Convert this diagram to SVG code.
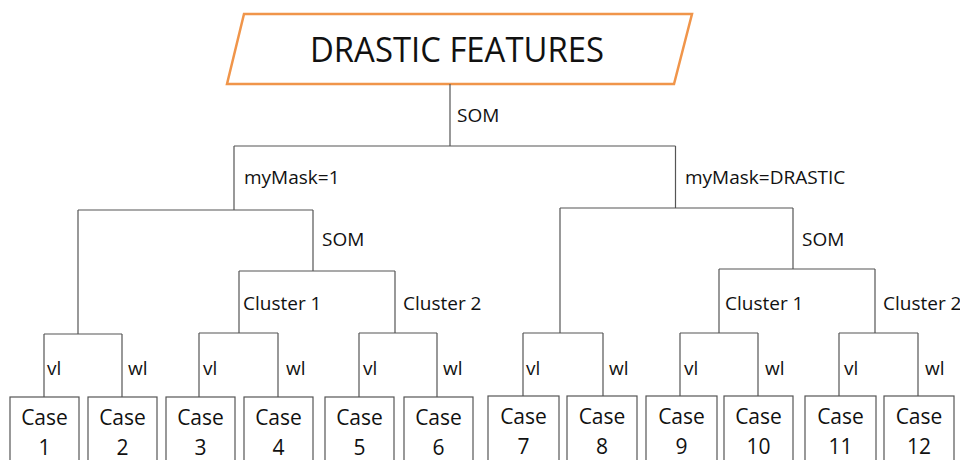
<svg xmlns="http://www.w3.org/2000/svg" width="960" height="460" viewBox="0 0 960 460">
<style>
.ln{fill:none;stroke:#555;stroke-width:1.2}
.bx{fill:#fff;stroke:#555;stroke-width:1.2}
.lb{font-family:"Open Sans","Liberation Sans",sans-serif;font-size:19px;fill:#111}
.cs{font-family:"Open Sans","Liberation Sans",sans-serif;font-size:21px;fill:#111;text-anchor:middle}
.tt{font-family:"Open Sans","Liberation Sans",sans-serif;font-size:35px;fill:#111;text-anchor:middle}
</style>
<rect width="960" height="460" fill="#fff"/>
<g id="title">
<polygon points="244,14 692,14 674,84 227,84" fill="#fff" stroke="#F0954A" stroke-width="2.5"/>
<text class="tt" x="457" y="62" textLength="294" lengthAdjust="spacingAndGlyphs">DRASTIC FEATURES</text>
</g>
<g id="connectors">
<path class="ln" d="M450,84V146M234,146H675.5M234,146V210M675.5,146V208"/>
<path class="ln" d="M78,210H313M78,210V334M313,210V271M239,271H395M239,271V333M395,271V333"/>
<path class="ln" d="M44,334H122M44,334V397M122,334V397M199,333H278M199,333V397M278,333V397M359,333H437M359,333V397M437,333V397"/>
<path class="ln" d="M560,208H793M560,208V333M793,208V269M719,269H875M719,269V333M875,269V333"/>
<path class="ln" d="M523,333H603M523,333V396M603,333V396M680,333H758M680,333V396M758,333V396M839,333H918M839,333V396M918,333V396"/>
</g>
<g id="labels">
<text class="lb" x="457" y="122">SOM</text>
<text class="lb" x="244" y="184">myMask=1</text>
<text class="lb" x="685" y="184">myMask=DRASTIC</text>
<text class="lb" x="322" y="246">SOM</text>
<text class="lb" x="802" y="246">SOM</text>
<text class="lb" x="243" y="310">Cluster 1</text>
<text class="lb" x="403" y="310">Cluster 2</text>
<text class="lb" x="725" y="310">Cluster 1</text>
<text class="lb" x="883" y="310">Cluster 2</text>
<text class="lb" x="47" y="375">vl</text>
<text class="lb" x="128" y="375">wl</text>
<text class="lb" x="203" y="375">vl</text>
<text class="lb" x="286" y="375">wl</text>
<text class="lb" x="363" y="375">vl</text>
<text class="lb" x="443" y="375">wl</text>
<text class="lb" x="526" y="375">vl</text>
<text class="lb" x="609" y="375">wl</text>
<text class="lb" x="684" y="375">vl</text>
<text class="lb" x="765" y="375">wl</text>
<text class="lb" x="844" y="375">vl</text>
<text class="lb" x="925" y="375">wl</text>
</g>
<g id="case1"><rect class="bx" x="10" y="397" width="69" height="80"/><text class="cs" x="44.5" y="425">Case</text><text class="cs" x="44.5" y="455">1</text></g>
<g id="case2"><rect class="bx" x="88" y="397" width="69" height="80"/><text class="cs" x="122.5" y="425">Case</text><text class="cs" x="122.5" y="455">2</text></g>
<g id="case3"><rect class="bx" x="166" y="397" width="69" height="80"/><text class="cs" x="200.5" y="425">Case</text><text class="cs" x="200.5" y="455">3</text></g>
<g id="case4"><rect class="bx" x="244" y="397" width="69" height="80"/><text class="cs" x="278.5" y="425">Case</text><text class="cs" x="278.5" y="455">4</text></g>
<g id="case5"><rect class="bx" x="325" y="397" width="69" height="80"/><text class="cs" x="359.5" y="425">Case</text><text class="cs" x="359.5" y="455">5</text></g>
<g id="case6"><rect class="bx" x="404" y="397" width="69" height="80"/><text class="cs" x="438.5" y="425">Case</text><text class="cs" x="438.5" y="455">6</text></g>
<g id="case7"><rect class="bx" x="488" y="396" width="71" height="80"/><text class="cs" x="523.5" y="424">Case</text><text class="cs" x="523.5" y="454">7</text></g>
<g id="case8"><rect class="bx" x="567" y="396" width="70" height="80"/><text class="cs" x="602" y="424">Case</text><text class="cs" x="602" y="454">8</text></g>
<g id="case9"><rect class="bx" x="646" y="396" width="71" height="80"/><text class="cs" x="681.5" y="424">Case</text><text class="cs" x="681.5" y="454">9</text></g>
<g id="case10"><rect class="bx" x="724" y="396" width="69" height="80"/><text class="cs" x="758.5" y="424">Case</text><text class="cs" x="758.5" y="454">10</text></g>
<g id="case11"><rect class="bx" x="805" y="396" width="71" height="80"/><text class="cs" x="840.5" y="424">Case</text><text class="cs" x="840.5" y="454">11</text></g>
<g id="case12"><rect class="bx" x="884" y="396" width="70" height="80"/><text class="cs" x="919" y="424">Case</text><text class="cs" x="919" y="454">12</text></g>
</svg>
